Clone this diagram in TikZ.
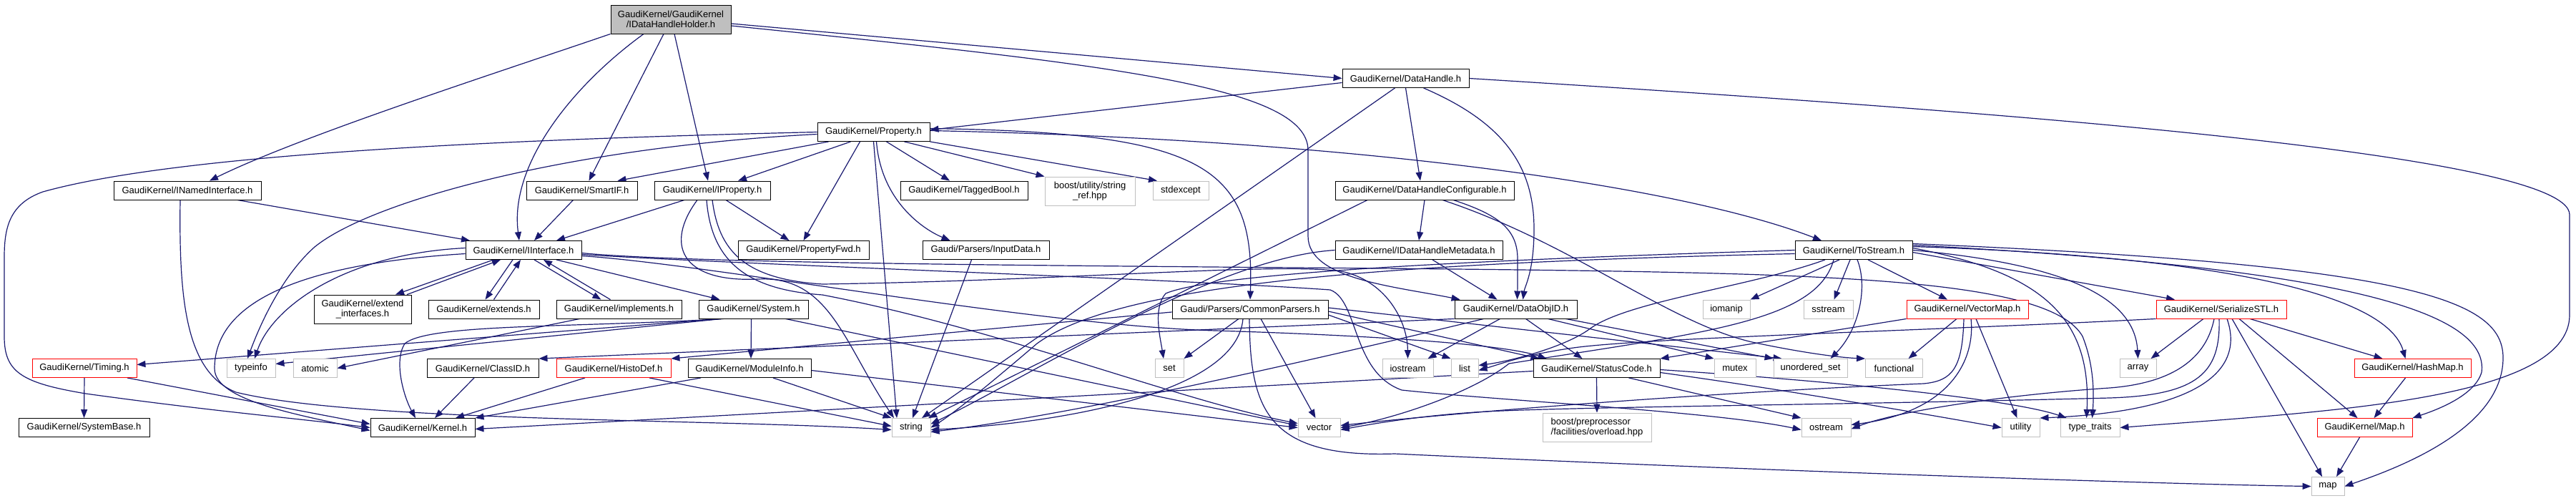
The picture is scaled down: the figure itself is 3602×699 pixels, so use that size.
\documentclass[tikz,border=0pt]{standalone}
\usepackage{fontspec}
\setmainfont{Liberation Sans}
\usetikzlibrary{arrows.meta,backgrounds}
\definecolor{edgec}{HTML}{191970}
\definecolor{grayb}{HTML}{BFBFBF}
\newcommand{\gvfont}{\fontsize{13}{14.5}\selectfont}
\begin{document}
\begin{tikzpicture}[x=1pt,y=-1pt,
  gvbox/.style={rectangle, inner sep=0pt, line width=0.9pt, fill=white, font=\gvfont, align=center, minimum height=26pt},
  nb/.style={gvbox, draw=black},
  ng/.style={gvbox, draw=grayb},
  nr/.style={gvbox, draw=red},
  dep/.style={draw=edgec, line width=1.2pt, -{Triangle[length=12pt,width=9pt]}}]
\useasboundingbox (0,0) rectangle (3602,699);

% ---------- nodes ----------
\node[nb, fill=grayb, minimum width=168pt, minimum height=40pt] (root) at (938,27) {GaudiKernel/GaudiKernel\\/IDataHandleHolder.h};
\node[nb, minimum width=177pt] (DataHandle) at (1965.5,109.5) {GaudiKernel/DataHandle.h};
\node[nb, minimum width=157pt] (Property) at (1221.5,184.5) {GaudiKernel/Property.h};
\node[nb, minimum width=206pt] (INamed) at (262,266) {GaudiKernel/INamedInterface.h};
\node[nb, minimum width=155pt] (SmartIF) at (813.5,266) {GaudiKernel/SmartIF.h};
\node[nb, minimum width=162pt] (IProperty) at (996,266) {GaudiKernel/IProperty.h};
\node[nb, minimum width=178pt] (TaggedBool) at (1348,266) {GaudiKernel/TaggedBool.h};
\node[ng, minimum width=126pt, minimum height=40pt] (stringref) at (1524,267) {boost/utility/string\\\_ref.hpp};
\node[ng, minimum width=78pt] (stdexcept) at (1651,266) {stdexcept};
\node[nb, minimum width=250pt] (DHConf) at (1992,266) {GaudiKernel/DataHandleConfigurable.h};
\node[nb, minimum width=162pt] (IInterface) at (732,349.5) {GaudiKernel/IInterface.h};
\node[nb, minimum width=183pt] (PropertyFwd) at (1123.5,349.5) {GaudiKernel/PropertyFwd.h};
\node[nb, minimum width=177pt] (InputData) at (1378.5,349.5) {Gaudi/Parsers/InputData.h};
\node[nb, minimum width=234pt] (IDHMeta) at (1984,349.5) {GaudiKernel/IDataHandleMetadata.h};
\node[nb, minimum width=164pt] (ToStream) at (2592,349.5) {GaudiKernel/ToStream.h};
\node[nb, minimum width=136pt, minimum height=40pt] (extendif) at (507,432) {GaudiKernel/extend\\\_interfaces.h};
\node[nb, minimum width=155pt] (extends) at (676.5,432) {GaudiKernel/extends.h};
\node[nb, minimum width=175pt] (implements) at (865.5,432) {GaudiKernel/implements.h};
\node[nb, minimum width=153pt] (System) at (1053.5,432) {GaudiKernel/System.h};
\node[nb, minimum width=218pt] (CommonParsers) at (1748,432) {Gaudi/Parsers/CommonParsers.h};
\node[nb, minimum width=171pt] (DataObjID) at (2119.5,432) {GaudiKernel/DataObjID.h};
\node[ng, minimum width=66pt] (iomanip) at (2414,432) {iomanip};
\node[ng, minimum width=69pt] (sstream) at (2556.5,432) {sstream};
\node[nr, minimum width=170pt] (VectorMap) at (2751,432) {GaudiKernel/VectorMap.h};
\node[nr, minimum width=182pt] (SerializeSTL) at (3106,432) {GaudiKernel/SerializeSTL.h};
\node[nr, minimum width=146pt] (Timing) at (118,514.5) {GaudiKernel/Timing.h};
\node[ng, minimum width=68pt] (typeinfo) at (351,514.5) {typeinfo};
\node[ng, minimum width=61pt] (atomic) at (440.5,514.5) {atomic};
\node[nb, minimum width=156pt] (ClassID) at (675,514.5) {GaudiKernel/ClassID.h};
\node[nr, minimum width=160pt] (HistoDef) at (858,514.5) {GaudiKernel/HistoDef.h};
\node[nb, minimum width=172pt] (ModuleInfo) at (1048,514.5) {GaudiKernel/ModuleInfo.h};
\node[ng, minimum width=40pt] (set) at (1635,514.5) {set};
\node[ng, minimum width=71pt] (iostream) at (1968.5,514.5) {iostream};
\node[ng, minimum width=38pt] (list) at (2048,514.5) {list};
\node[nb, minimum width=177pt] (StatusCode) at (2232.5,514.5) {GaudiKernel/StatusCode.h};
\node[ng, minimum width=58pt] (mutex) at (2426,514.5) {mutex};
\node[ng, minimum width=103pt] (unorderedset) at (2531.5,514.5) {unordered\_set};
\node[ng, minimum width=80pt] (functional) at (2648.5,514.5) {functional};
\node[ng, minimum width=51pt] (array) at (2989.5,514.5) {array};
\node[nr, minimum width=163pt] (HashMap) at (3373.5,514.5) {GaudiKernel/HashMap.h};
\node[nb, minimum width=183pt] (SystemBase) at (117.5,597.5) {GaudiKernel/SystemBase.h};
\node[nb, minimum width=146pt] (Kernel) at (591,597.5) {GaudiKernel/Kernel.h};
\node[ng, minimum width=54pt] (string) at (1274,597.5) {string};
\node[ng, minimum width=59pt] (vector) at (1844.5,597.5) {vector};
\node[ng, minimum width=152pt, minimum height=40pt, align=left] (overload) at (2233,597) {boost/preprocessor\\/facilities/overload.hpp};
\node[ng, minimum width=69pt] (ostream) at (2553.5,597.5) {ostream};
\node[ng, minimum width=53pt] (utility) at (2825.5,597.5) {utility};
\node[ng, minimum width=83pt] (typetraits) at (2922.5,597.5) {type\_traits};
\node[nr, minimum width=133pt] (Map) at (3306.5,597.5) {GaudiKernel/Map.h};
\node[ng, minimum width=46pt] (map) at (3255,679.5) {map};

\begin{pgfonlayer}{background}
\fill[white] (0,0) rectangle (3602,699);
% root
\draw[dep] (root.south west) .. controls (700,100) and (420,190) .. ([xshift=31pt]INamed.north);
\draw[dep] ([xshift=-38pt]root.south) .. controls (800,120) and (712,230) .. ([xshift=-6pt]IInterface.north);
\draw[dep] ([xshift=-10pt]root.south) -- ([xshift=10pt]SmartIF.north);
\draw[dep] ([xshift=5pt]root.south) -- ([xshift=-6pt]IProperty.north);
\draw[dep] ([yshift=-6pt]root.east) -- (DataHandle.west);
\draw[dep] ([yshift=-9pt]root.east) .. controls (1550,90) and (1829,120) .. (1829,210) -- (1829,330) .. controls (1829,390) and (1950,400) .. ([xshift=8pt]DataObjID.north west);
% DataHandle
\draw[dep] ([yshift=-6pt]DataHandle.west) -- ([yshift=3pt]Property.east);
\draw[dep] ([xshift=-15pt]DataHandle.south) -- ([xshift=15pt]string.north);
\draw[dep] (DataHandle.south) -- ([xshift=-6pt]DHConf.north);
\draw[dep] ([xshift=25pt]DataHandle.south) .. controls (2100,170) and (2145,230) .. (2145,320) .. controls (2145,380) and (2132,400) .. ([xshift=10pt]DataObjID.north);
\draw[dep] (DataHandle.east) .. controls (2700,150) and (3593,210) .. (3593,300) -- (3593,440) .. controls (3593,560) and (3250,575) .. (typetraits.east);
% Property
\draw[dep] (Property.west) .. controls (700,195) and (250,215) .. (60,268) .. controls (12,285) and (6,320) .. (6,360) -- (6,470) .. controls (6,520) and (30,535) .. (120,550) .. controls (300,575) and (420,585) .. (Kernel.west);
\draw[dep] ([yshift=-3pt]Property.west) .. controls (800,205) and (520,280) .. (440,345) .. controls (395,385) and (365,450) .. ([xshift=-5pt]typeinfo.north);
\draw[dep] ([xshift=-63pt]Property.south) -- ([xshift=50pt]SmartIF.north);
\draw[dep] ([xshift=-32pt]Property.south) -- ([xshift=36pt]IProperty.north);
\draw[dep] ([xshift=-19pt]Property.south) -- (PropertyFwd.north);
\draw[dep] (Property.south) -- ([xshift=-20pt]string.north);
\draw[dep] ([xshift=4pt]Property.south) .. controls (1232,280) and (1290,320) .. ([xshift=-50pt]InputData.north);
\draw[dep] ([xshift=18pt]Property.south) -- ([xshift=-20pt]TaggedBool.north);
\draw[dep] ([xshift=43pt]Property.south) -- (stringref.north west);
\draw[dep] (Property.south east) -- ([xshift=-33pt]stdexcept.north);
\draw[dep] ([yshift=5pt]Property.east) .. controls (1680,185) and (1755,230) .. (CommonParsers.north);
\draw[dep] ([yshift=2pt]Property.east) .. controls (1900,195) and (2350,260) .. ([xshift=-45pt]ToStream.north);
% INamedInterface
\draw[dep] ([xshift=70pt]INamed.south) -- ([xshift=-75pt]IInterface.north);
\draw[dep] ([xshift=-10pt]INamed.south) .. controls (250,420) and (260,520) .. (330,548) .. controls (500,590) and (1000,585) .. ([yshift=-3pt]string.west);
% SmartIF
\draw[dep] ([xshift=-12pt]SmartIF.south) -- ([xshift=15pt]IInterface.north);
% IProperty
\draw[dep] ([xshift=-39pt]IProperty.south) -- ([xshift=46pt]IInterface.north);
\draw[dep] ([xshift=19pt]IProperty.south) -- ([xshift=-20pt]PropertyFwd.north);
\draw[dep] ([xshift=-21pt]IProperty.south) .. controls (930,340) and (950,395) .. (1060,390) .. controls (1160,385) and (1180,480) .. ([xshift=-24pt]string.north);
\draw[dep] ([xshift=-8pt]IProperty.south) .. controls (995,370) and (1050,405) .. (1150,412) .. controls (1400,460) and (1650,560) .. ([yshift=6pt]vector.west);
\draw[dep] (IProperty.south) .. controls (1005,350) and (1040,390) .. (1150,397) .. controls (1500,392) and (1800,365) .. (1880,380) .. controls (1940,395) and (1968,450) .. (iostream.north);
% IInterface
\draw[dep] ([xshift=-42pt]IInterface.south) -- ([xshift=46pt]extendif.north);
\draw[dep] ([xshift=62pt]extendif.north) -- ([xshift=-32pt]IInterface.south);
\draw[dep] ([xshift=-15pt]IInterface.south) -- ([xshift=2pt]extends.north);
\draw[dep] ([xshift=14pt]extends.north) -- ([xshift=-4pt]IInterface.south);
\draw[dep] ([xshift=15pt]IInterface.south) -- ([xshift=-25pt]implements.north);
\draw[dep] ([xshift=-12pt]implements.north) -- ([xshift=28pt]IInterface.south);
\draw[dep] ([xshift=46pt]IInterface.south) -- ([xshift=-47pt]System.north);
\draw[dep] ([yshift=3pt]IInterface.west) .. controls (480,355) and (380,430) .. ([xshift=5pt]typeinfo.north);
\draw[dep] ([yshift=-5pt]IInterface.west) .. controls (400,370) and (300,430) .. (300,515) .. controls (300,560) and (420,580) .. ([yshift=-4pt]Kernel.west);
\draw[dep] ([yshift=-8pt]IInterface.east) .. controls (1000,370) and (1450,455) .. (1700,462) .. controls (1900,468) and (2100,480) .. ([xshift=-70pt]StatusCode.north);
\draw[dep] ([yshift=-6pt]IInterface.east) .. controls (1000,368) and (1650,390) .. (1860,405) .. controls (1900,420) and (1890,520) .. (1960,545) .. controls (2100,560) and (2400,575) .. ([yshift=-3pt]ostream.west);
\draw[dep] ([yshift=-4pt]IInterface.east) .. controls (1000,372) and (1800,372) .. (2200,378) .. controls (2600,384) and (2870,395) .. (2912,470) .. controls (2928,510) and (2928,550) .. ([xshift=3pt]typetraits.north);
% implements
\draw[dep] ([xshift=-55pt]implements.south) -- (atomic.east);
% System
\draw[dep] ([xshift=-46pt]System.south) -- ([yshift=5pt]Timing.east);
\draw[dep] ([xshift=-44pt]System.south) -- ([yshift=6pt]typeinfo.east);
\draw[dep] ([xshift=-42pt]System.south) .. controls (800,458) and (600,452) .. (566,480) .. controls (550,505) and (565,555) .. ([xshift=-10pt]Kernel.north);
\draw[dep] ([xshift=-3pt]System.south) -- ([xshift=2pt]ModuleInfo.north);
\draw[dep] ([xshift=45pt]System.south) -- ([yshift=3pt]vector.west);
% Timing
\draw[dep] (Timing.south) -- (SystemBase.north);
\draw[dep] ([xshift=60pt]Timing.south) -- ([yshift=5pt]Kernel.west);
% ClassID, HistoDef, ModuleInfo, InputData
\draw[dep] ([xshift=-12pt]ClassID.south) -- ([xshift=17pt]Kernel.north);
\draw[dep] ([xshift=-40pt]HistoDef.south) -- ([xshift=46pt]Kernel.north);
\draw[dep] ([xshift=50pt]HistoDef.south) -- ([yshift=2pt]string.west);
\draw[dep] ([xshift=-68pt]ModuleInfo.south) -- (Kernel.north east);
\draw[dep] ([xshift=33pt]ModuleInfo.south) -- (string.north west);
\draw[dep] ([yshift=-3pt]ModuleInfo.east) -- (vector.west);
\draw[dep] ([xshift=-20pt]InputData.south) -- ([xshift=2pt]string.north);
% DataHandleConfigurable
\draw[dep] ([xshift=-80pt]DHConf.south) -- ([xshift=24pt]string.north);
\draw[dep] (DHConf.south) -- (IDHMeta.north);
\draw[dep] ([xshift=25pt]DHConf.south) .. controls (2200,340) and (2330,450) .. (2450,478) .. controls (2530,495) and (2580,500) .. (functional.north west);
\draw[dep] ([xshift=40pt]DHConf.south) .. controls (2095,300) and (2122,320) .. (2122,362) .. controls (2122,390) and (2122,400) .. ([xshift=2pt]DataObjID.north);
% IDataHandleMetadata
\draw[dep] ([xshift=19pt]IDHMeta.south) -- ([xshift=-26pt]DataObjID.north);
\draw[dep] (IDHMeta.west) .. controls (1700,360) and (1450,520) .. ([yshift=5pt]string.east);
% ToStream
\draw[dep] ([xshift=-20pt]ToStream.south) -- (iomanip.north east);
\draw[dep] ([xshift=-5pt]ToStream.south) -- ([xshift=8pt]sstream.north);
\draw[dep] ([xshift=5pt]ToStream.south) .. controls (2612,400) and (2600,460) .. ([xshift=28pt]unorderedset.north);
\draw[dep] ([xshift=20pt]ToStream.south) -- ([xshift=-28pt]VectorMap.north);
\draw[dep] ([xshift=-40pt]ToStream.south) .. controls (2450,400) and (2280,420) .. (2225,458) .. controls (2190,485) and (2110,505) .. ([yshift=4pt]list.east);
\draw[dep] ([xshift=-28pt]ToStream.south) .. controls (2540,450) and (2380,465) .. (2110,508) .. controls (2060,548) and (1950,585) .. (vector.east);
\draw[dep] (ToStream.west) .. controls (2100,362) and (1700,380) .. (1630,410) .. controls (1612,430) and (1622,470) .. ([xshift=-8pt]set.north);
\draw[dep] ([yshift=-5pt]ToStream.west) .. controls (1900,368) and (1560,400) .. (1450,480) .. controls (1380,540) and (1330,580) .. (string.east);
\draw[dep] ([yshift=3pt]ToStream.east) .. controls (2850,380) and (2925,440) .. ([xshift=-5pt]typetraits.north);
\draw[dep] (ToStream.east) .. controls (2900,370) and (2985,420) .. (array.north);
\draw[dep] ([yshift=-3pt]ToStream.east) -- ([xshift=-65pt]SerializeSTL.north);
\draw[dep] ([yshift=5pt]ToStream.east) .. controls (3150,360) and (3340,420) .. ([xshift=-10pt]HashMap.north);
\draw[dep] ([yshift=7pt]ToStream.east) .. controls (3300,375) and (3480,440) .. (3470,520) .. controls (3460,555) and (3400,575) .. (Map.north east);
\draw[dep] ([yshift=9pt]ToStream.east) .. controls (3380,370) and (3500,420) .. (3500,500) .. controls (3500,600) and (3350,655) .. (map.east);
% CommonParsers
\draw[dep] ([yshift=-4pt]CommonParsers.west) -- (HistoDef.north east);
\draw[dep] ([xshift=-16pt]CommonParsers.south) -- (set.north east);
\draw[dep] ([xshift=-10pt]CommonParsers.south) .. controls (1730,545) and (1500,590) .. ([yshift=-3pt]string.east);
\draw[dep] ([xshift=-1pt]CommonParsers.south) .. controls (1748,570) and (1770,640) .. (1950,634) .. controls (2400,655) and (3000,676) .. (map.west);
\draw[dep] ([xshift=15pt]CommonParsers.south) -- ([xshift=-5pt]vector.north);
\draw[dep] ([yshift=-3pt]CommonParsers.east) -- ([xshift=-80pt]StatusCode.north);
\draw[dep] ([yshift=-8pt]CommonParsers.east) -- (list.north west);
\draw[dep] ([yshift=2pt]CommonParsers.east) -- ([xshift=12pt]unorderedset.north west);
% DataObjID
\draw[dep] (DataObjID.south west) -- (ClassID.north east);
\draw[dep] ([xshift=-45pt]DataObjID.south) .. controls (1850,500) and (1500,580) .. ([yshift=-6pt]string.east);
\draw[dep] ([xshift=-22pt]DataObjID.south) -- ([xshift=28pt]iostream.north);
\draw[dep] ([xshift=14pt]DataObjID.south) -- ([xshift=-20pt]StatusCode.north);
\draw[dep] ([xshift=45pt]DataObjID.south) -- (mutex.north west);
\draw[dep] ([xshift=70pt]DataObjID.south) -- (unorderedset.north west);
% StatusCode
\draw[dep] ([yshift=-4pt]StatusCode.west) -- ([yshift=-2pt]Kernel.east);
\draw[dep] (StatusCode.south) -- (overload.north);
\draw[dep] ([xshift=45pt]StatusCode.south) -- (ostream.north west);
\draw[dep] ([yshift=-6pt]StatusCode.east) .. controls (2500,545) and (2700,580) .. (utility.west);
\draw[dep] ([yshift=-2pt]StatusCode.east) .. controls (2600,535) and (2820,560) .. ([xshift=-33pt]typetraits.north);
% VectorMap
\draw[dep] (VectorMap.south west) -- (StatusCode.north east);
\draw[dep] ([xshift=-15pt]VectorMap.south) -- ([xshift=20pt]functional.north);
\draw[dep] ([xshift=-5pt]VectorMap.south) .. controls (2744,515) and (2730,532) .. (2690,536) .. controls (2400,548) and (2050,575) .. ([yshift=3pt]vector.east);
\draw[dep] ([xshift=5pt]VectorMap.south) .. controls (2762,500) and (2730,575) .. ([yshift=4pt]ostream.east);
\draw[dep] ([xshift=12pt]VectorMap.south) -- ([xshift=-5pt]utility.north);
% SerializeSTL
\draw[dep] ([xshift=-25pt]SerializeSTL.south) -- ([xshift=18pt]array.north);
\draw[dep] ([xshift=40pt]SerializeSTL.south) -- ([xshift=-42pt]HashMap.north);
\draw[dep] ([xshift=25pt]SerializeSTL.south) -- ([xshift=-10pt]Map.north);
\draw[dep] ([xshift=15pt]SerializeSTL.south) -- ([xshift=-8pt]map.north);
\draw[dep] ([xshift=8pt]SerializeSTL.south) .. controls (3140,520) and (3070,575) .. (utility.north east);
\draw[dep] (SerializeSTL.south west) .. controls (2700,462) and (2300,472) .. (2200,486) .. controls (2130,496) and (2100,508) .. ([yshift=-3pt]list.east);
\draw[dep] ([xshift=-10pt]SerializeSTL.south) .. controls (3085,500) and (3040,535) .. (2950,542) .. controls (2800,552) and (2650,575) .. ([yshift=-2pt]ostream.east);
\draw[dep] ([xshift=-3pt]SerializeSTL.south) .. controls (3105,520) and (3075,552) .. (2950,556) .. controls (2600,565) and (2250,568) .. (2100,574) .. controls (2000,578) and (1920,592) .. ([yshift=-3pt]vector.east);
% HashMap, Map
\draw[dep] ([xshift=-10pt]HashMap.south) -- ([xshift=13pt]Map.north);
\draw[dep] ([xshift=-7pt]Map.south) -- ([xshift=12pt]map.north);
\end{pgfonlayer}
\end{tikzpicture}
\end{document}
